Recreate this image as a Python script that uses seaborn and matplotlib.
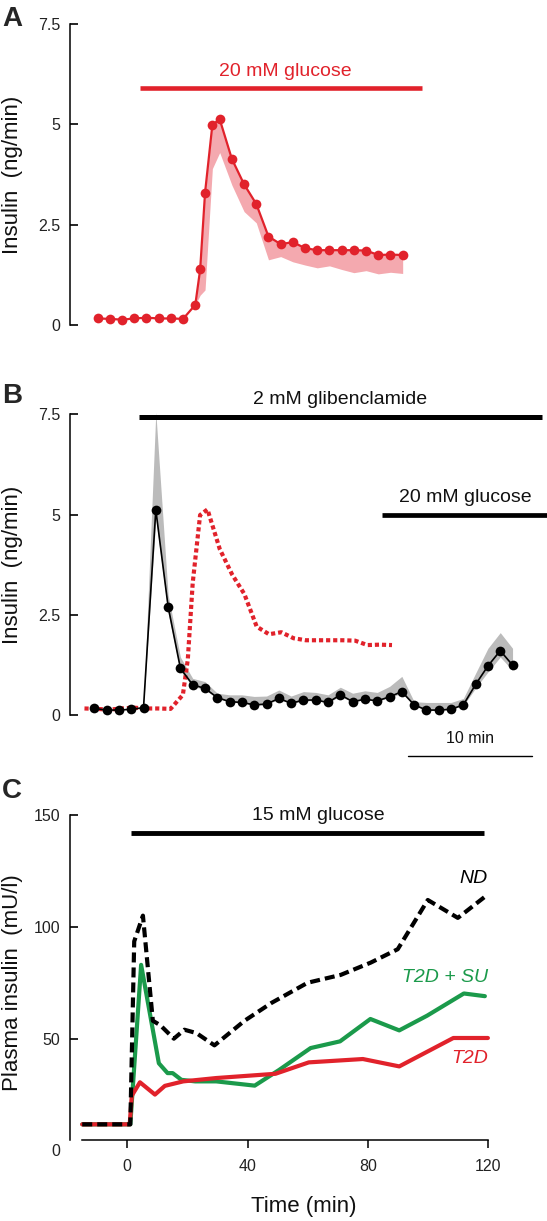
import numpy as np
import matplotlib
matplotlib.use('Agg')
import matplotlib.pyplot as plt
import seaborn as sns

# Set plot style (font list after the theme, theme resets it)
sns.set_theme(style="white")
plt.rcParams['font.family'] = ['Liberation Sans', 'DejaVu Sans']

RED = '#E1222B'
PINK = '#F4A9AF'
GREEN = '#1B9A4B'
GREY = '#BBBBBB'

# Panel A: perifusion, 20 mM glucose (time in min)
a_time = [0, 1, 2, 3, 4, 5, 6, 7, 8, 8.4, 8.8, 9.4, 10, 11, 12, 13, 14, 15,
          16, 17, 18, 19, 20, 21, 22, 23, 24, 25]
a_insulin = [0.17, 0.16, 0.14, 0.17, 0.19, 0.17, 0.17, 0.16, 0.51, 1.39, 3.30,
             4.99, 5.13, 4.14, 3.51, 3.02, 2.21, 2.02, 2.07, 1.92, 1.87, 1.87,
             1.87, 1.87, 1.86, 1.75, 1.76, 1.75]
a_lower = [0.17, 0.16, 0.14, 0.17, 0.19, 0.17, 0.17, 0.16, 0.51, 0.75, 0.88,
           3.90, 4.30, 3.49, 2.83, 2.55, 1.63, 1.71, 1.58, 1.50, 1.43, 1.48,
           1.39, 1.31, 1.36, 1.28, 1.32, 1.29]
a_glucose_on = [3.5, 26.6]

# Panel B: glibenclamide then 20 mM glucose
b_time = [0, 1, 2, 3, 4, 5, 6, 7, 8, 9, 10, 11, 12, 13, 14, 15, 16, 17, 18,
          19, 20, 21, 22, 23, 24, 25, 26, 27, 28, 29, 30, 31, 32, 33, 34]
b_insulin = [0.17, 0.13, 0.13, 0.15, 0.19, 5.12, 2.71, 1.17, 0.76, 0.67, 0.44,
             0.34, 0.32, 0.26, 0.28, 0.42, 0.30, 0.38, 0.38, 0.32, 0.51, 0.34,
             0.40, 0.36, 0.46, 0.59, 0.26, 0.13, 0.13, 0.15, 0.26, 0.77, 1.23,
             1.61, 1.25]
b_upper = [0.17, 0.13, 0.13, 0.15, 0.19, 7.55, 3.00, 1.45, 0.92, 0.84, 0.55,
           0.51, 0.51, 0.47, 0.48, 0.63, 0.48, 0.59, 0.57, 0.51, 0.70, 0.55,
           0.61, 0.57, 0.72, 0.97, 0.34, 0.32, 0.32, 0.32, 0.42, 1.05, 1.67,
           2.06, 1.67]
b_lower = [0.17, 0.13, 0.13, 0.15, 0.19, 4.90, 2.55, 1.10, 0.72, 0.64, 0.42,
           0.33, 0.31, 0.25, 0.27, 0.40, 0.29, 0.36, 0.37, 0.31, 0.48, 0.33,
           0.39, 0.35, 0.44, 0.55, 0.25, 0.13, 0.13, 0.15, 0.24, 0.68, 1.08,
           1.45, 1.12]
ref_shift = -0.8   # glucose trace of panel A replotted in B
b_glib_on = [3.6, 36.4]
b_glucose_on = [23.4, 36.8]
scale_bar = [25.5, 35.6]

# Panel C: plasma insulin (mU/l)
nd_time = [-15, 1, 2.3, 5.2, 8.5, 11, 15.5, 19, 23, 29, 39, 48, 60, 71, 81,
           90, 100, 110, 120]
nd_ins = [11.7, 11.7, 93.5, 105, 58, 56, 50, 54, 52.5, 47, 58, 66, 75, 78.5,
          84, 90, 112, 104, 114.5]
su_time = [-15, 1, 4.6, 10.5, 13.4, 15.1, 18, 22.6, 29.6, 42.4, 50.5, 61,
           70.8, 80.9, 90.5, 99.8, 112, 119]
su_ins = [11.7, 11.7, 83, 39, 34.6, 34.6, 31.6, 30.9, 30.9, 29, 36, 45.8,
          48.8, 58.8, 53.7, 60.3, 70.2, 69]
t2d_time = [-15, 0.8, 1.5, 4.2, 9.2, 12.5, 18.6, 29.6, 49.3, 60.4, 78.4, 90.5,
            108.5, 120]
t2d_ins = [11.7, 11.7, 24.5, 30.5, 25, 28.9, 30.9, 32.4, 34.3, 39.4, 40.9,
           37.6, 50.3, 50.3]
c_glucose_on = [1.2, 118.8]

W, H = 547, 1221
fig = plt.figure(figsize=(W / 100, H / 100), dpi=100)
ax_a = fig.add_axes([70 / W, 1 - 325.3 / H, 477 / W, 301.3 / H])
ax_b = fig.add_axes([70 / W, 1 - 715.3 / H, 477 / W, 301.0 / H])
ax_c = fig.add_axes([70 / W, 1 - 1150.5 / H, 477 / W, 335.5 / H])


def style_y(ax, label):
    for s in ['top', 'right']:
        ax.spines[s].set_visible(False)
    ax.spines['left'].set_color('black')
    ax.spines['left'].set_linewidth(1.1)
    ax.tick_params(axis='y', which='major', direction='in', length=5.5,
                   width=1.2, pad=7, labelsize=11.5, color='black',
                   labelcolor='#222222', left=True)
    ax.set_ylabel(label, fontsize=16, color='#111111')
    ax.yaxis.set_label_coords(-0.0985, 0.5)


# ---- A
ax_a.fill_between(a_time, a_lower, a_insulin, color=PINK, lw=0, zorder=1)
sns.lineplot(x=a_time, y=a_insulin, ax=ax_a, color=RED, lw=1.6, marker='o',
             markersize=7, markeredgewidth=0, clip_on=False, zorder=3)
ax_a.plot(a_glucose_on, [5.91, 5.91], color=RED, lw=3.3, solid_capstyle='butt')
ax_a.text(15.4, 6.32, '20 mM glucose', color=RED, fontsize=14,
          ha='center', va='center')
ax_a.set_xlim(-2.27, 36.83)
ax_a.set_ylim(0, 7.5)
ax_a.set_yticks([0, 2.5, 5, 7.5], ['0', '2.5', '5', '7.5'])
ax_a.spines['bottom'].set_visible(False)
ax_a.xaxis.set_visible(False)
style_y(ax_a, 'Insulin  (ng/min)')

# ---- B
ax_b.fill_between(b_time, b_lower, b_upper, color=GREY, lw=0, zorder=1,
                  clip_on=False)
sns.lineplot(x=np.array(a_time) + ref_shift, y=a_insulin, ax=ax_b, color=RED,
             lw=3, linestyle=(0, (1, 0.7)), clip_on=False, zorder=2)
sns.lineplot(x=b_time, y=b_insulin, ax=ax_b, color='black', lw=1.2,
             marker='o', markersize=7, markeredgewidth=0, clip_on=False,
             zorder=3)
ax_b.plot(b_glib_on, [7.43, 7.43], color='black', lw=3.6,
          solid_capstyle='butt', clip_on=False)
ax_b.text(20.0, 7.88, '2 mM glibenclamide', fontsize=14, color='#111111',
          ha='center', va='center')
ax_b.plot(b_glucose_on, [5.0, 5.0], color='black', lw=3.4,
          solid_capstyle='butt', clip_on=False)
ax_b.text(30.2, 5.43, '20 mM glucose', fontsize=14, color='#111111',
          ha='center', va='center')
ax_b.plot(scale_bar, [-1.01, -1.01], color='black', lw=1.0, clip_on=False)
ax_b.text(30.5, -0.59, '10 min', fontsize=11.5, color='#111111',
          ha='center', va='center')
ax_b.set_xlim(-1.976, 36.8)
ax_b.set_ylim(0, 7.5)
ax_b.set_yticks([0, 2.5, 5, 7.5], ['0', '2.5', '5', '7.5'])
ax_b.spines['bottom'].set_visible(False)
ax_b.xaxis.set_visible(False)
style_y(ax_b, 'Insulin  (ng/min)')

# ---- C
sns.lineplot(x=su_time, y=su_ins, ax=ax_c, color=GREEN, lw=3, zorder=2)
sns.lineplot(x=t2d_time, y=t2d_ins, ax=ax_c, color=RED, lw=3, zorder=3)
sns.lineplot(x=nd_time, y=nd_ins, ax=ax_c, color='black', lw=3,
             linestyle=(0, (2.4, 1.2)), zorder=4)
ax_c.plot(c_glucose_on, [141.8, 141.8], color='black', lw=3.5,
          solid_capstyle='butt')
ax_c.text(63.5, 149.7, '15 mM glucose', fontsize=14, color='#111111',
          ha='center', va='center')
ax_c.text(120, 121.6, 'ND', fontsize=14, style='italic', color='black',
          ha='right', va='center')
ax_c.text(120, 77.2, 'T2D + SU', fontsize=14, style='italic', color=GREEN,
          ha='right', va='center')
ax_c.text(120, 41.3, 'T2D', fontsize=14, style='italic', color=RED,
          ha='right', va='center')
ax_c.set_xlim(-19.07, 139.67)
ax_c.set_ylim(0, 150)
ax_c.set_yticks([0, 50, 100, 150])
ax_c.set_xticks([0, 40, 80, 120])
style_y(ax_c, 'Plasma insulin  (mU/l)')
ax_c.spines['left'].set_bounds(4.7, 150)
ax_c.spines['bottom'].set_position(('data', 4.7))
ax_c.spines['bottom'].set_bounds(-15, 120)
ax_c.spines['bottom'].set_color('black')
ax_c.spines['bottom'].set_linewidth(1.1)
ax_c.yaxis.get_major_ticks()[0].tick1line.set_visible(False)
ax_c.tick_params(axis='x', direction='out', length=6, width=1.1, pad=8,
                 labelsize=11.5, color='black', labelcolor='#222222',
                 bottom=True)
ax_c.set_xlabel('Time (min)', fontsize=16, color='#111111')
ax_c.xaxis.set_label_coords((303.5 - 70) / 477, -0.135)

# Panel letters
for letter, top in [('A', 6), ('B', 383), ('C', 778)]:
    fig.text(2 / W, 1 - top / H, letter, fontsize=20, fontweight='bold',
             ha='left', va='top')

fig.savefig('out.png', dpi=100)
